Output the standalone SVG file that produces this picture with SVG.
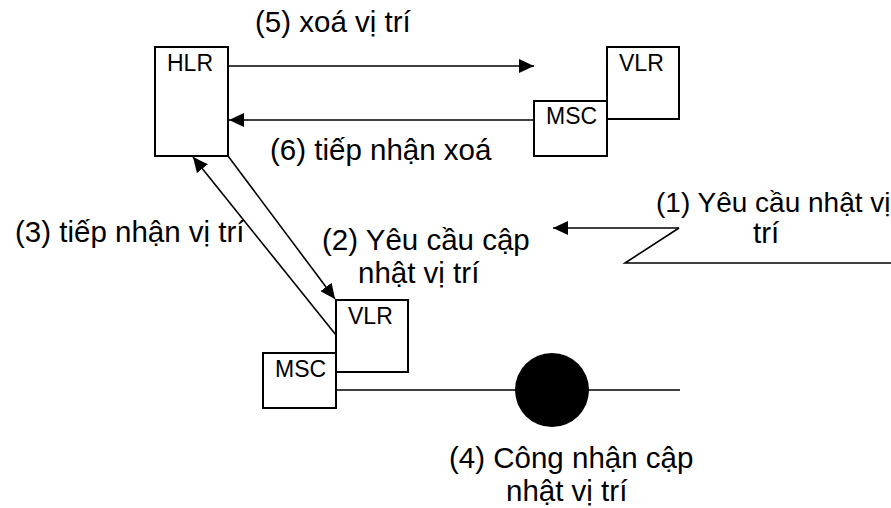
<svg xmlns="http://www.w3.org/2000/svg" width="891" height="508" viewBox="0 0 891 508">
<style>
.box{fill:#fff;stroke:#000;stroke-width:2}
.ln{fill:none;stroke:#000;stroke-width:1.6}
.lbl{font-family:"Liberation Sans",Arial,sans-serif;font-size:29.5px;fill:#000}
.nm{font-family:"Liberation Sans",Arial,sans-serif;font-size:23px;fill:#000}
</style>
<defs>
<marker id="ah" markerUnits="userSpaceOnUse" markerWidth="16" markerHeight="14" refX="15" refY="7" orient="auto">
<path d="M0,0 L15,7 L0,14 Z" fill="#000"/>
</marker>
</defs>
<rect width="891" height="508" fill="#fff"/>
<g id="connectors">
<line class="ln" x1="229" y1="66" x2="534" y2="66" marker-end="url(#ah)"/>
<line class="ln" x1="534" y1="120" x2="229" y2="120" marker-end="url(#ah)"/>
<line class="ln" x1="228" y1="156" x2="335" y2="299" marker-end="url(#ah)"/>
<line class="ln" x1="336" y1="335" x2="193" y2="157" marker-end="url(#ah)"/>
<line class="ln" x1="679" y1="228" x2="553" y2="228" marker-end="url(#ah)"/>
<polyline class="ln" points="679,228 625,263 891,263" stroke-width="2"/>
<line class="ln" x1="336" y1="390" x2="680" y2="390"/>
</g>
<g id="hlr">
<rect class="box" x="155" y="47" width="73" height="109"/>
<text class="nm" x="167" y="71">HLR</text>
</g>
<g id="vlr-top">
<rect class="box" x="607" y="47" width="72" height="72"/>
<text class="nm" x="619" y="71">VLR</text>
</g>
<g id="msc-top">
<rect class="box" x="534" y="101" width="73" height="55"/>
<text class="nm" x="546" y="124">MSC</text>
</g>
<g id="vlr-bottom">
<rect class="box" x="336" y="300" width="72" height="72"/>
<text class="nm" x="348" y="324">VLR</text>
</g>
<g id="msc-bottom">
<rect class="box" x="263" y="353" width="73" height="55"/>
<text class="nm" x="275" y="377">MSC</text>
</g>
<g id="bts">
<circle cx="552" cy="390" r="37" fill="#000"/>
</g>
<g id="labels">
<text class="lbl" x="255" y="32">(5) xoá vị trí</text>
<text class="lbl" x="270" y="160">(6) tiếp nhận xoá</text>
<text class="lbl" x="15" y="242">(3) tiếp nhận vị trí</text>
<text class="lbl" x="322" y="250">(2) Yêu cầu cập</text>
<text class="lbl" x="358" y="283">nhật vị trí</text>
<text class="lbl" x="656" y="212" style="font-size:28px">(1) Yêu cầu nhật vị</text>
<text class="lbl" x="753" y="243">trí</text>
<text class="lbl" x="449" y="468">(4) Công nhận cập</text>
<text class="lbl" x="506" y="501">nhật vị trí</text>
</g>
</svg>
